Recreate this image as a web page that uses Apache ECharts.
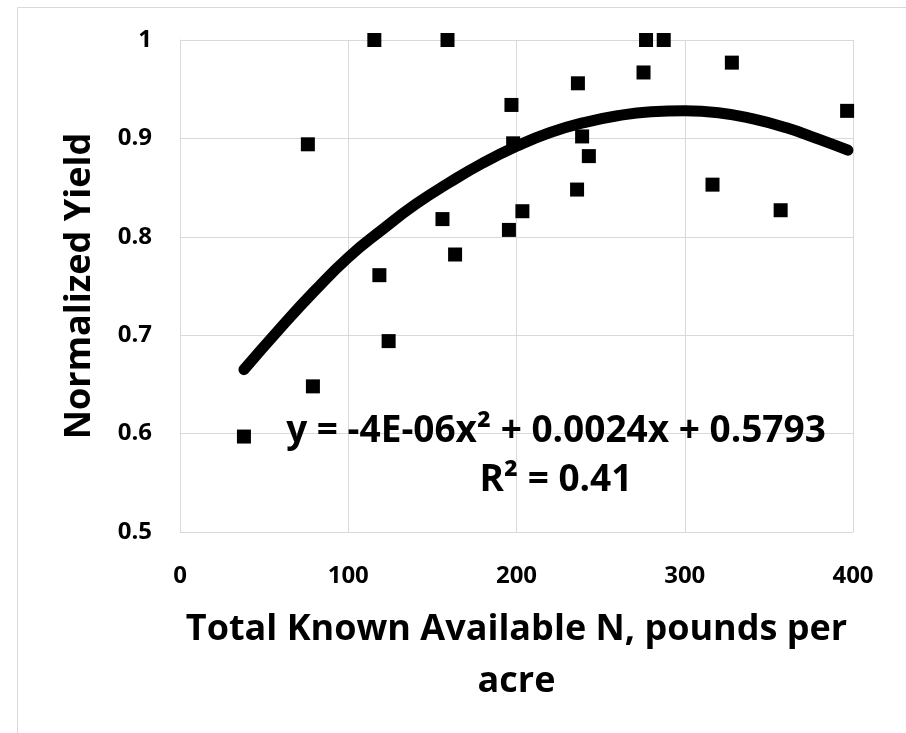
<!DOCTYPE html>
<html>
<head>
<meta charset="utf-8">
<script src="https://cdn.jsdelivr.net/npm/echarts@6/dist/echarts.min.js"></script>
<style>
html,body{margin:0;padding:0;background:#fff;}
#chart{width:906px;height:733px;}
</style>
</head>
<body>
<div id="chart"></div>
<script>
// Observed data points (Total Known Available N, Normalized Yield)
var nValues = [38, 76, 79, 115.5, 118.5, 124, 156, 159, 163.5, 195.5, 197, 198, 203.5, 236, 236.5, 239, 243, 275.5, 277, 287.5, 316.5, 328, 357, 396.5];
var yieldValues = [0.597, 0.894, 0.648, 1.0, 0.761, 0.694, 0.818, 1.0, 0.782, 0.807, 0.934, 0.895, 0.826, 0.848, 0.956, 0.902, 0.882, 0.967, 1.0, 1.0, 0.853, 0.977, 0.827, 0.928];

// Trendline points
var trendX = [38, 60, 80, 100, 120, 140, 160, 180, 200, 220, 240, 260, 280, 300, 320, 340, 360, 380, 397];
var trendY = [0.665, 0.708, 0.745, 0.779, 0.807, 0.833, 0.855, 0.875, 0.892, 0.906, 0.916, 0.923, 0.927, 0.928, 0.926, 0.920, 0.911, 0.899, 0.888];

var xTicks = [0, 100, 200, 300, 400];
var yTicks = [0.5, 0.6, 0.7, 0.8, 0.9, 1];

var xTitle = 'Total Known Available N, pounds per\nacre';
var yTitle = 'Normalized Yield';
var equationText = 'y = -4E-06x\u00B2 + 0.0024x + 0.5793';
var r2Text = 'R\u00B2 = 0.41';

var FONT = '"Open Sans", "DejaVu Sans", sans-serif';

var chart = echarts.init(document.getElementById('chart'), null, {renderer: 'canvas'});

var scatterData = nValues.map(function (v, i) { return [v, yieldValues[i]]; });
var trendData = trendX.map(function (v, i) { return [v, trendY[i]]; });

var option = {
  backgroundColor: '#ffffff',
  animation: false,
  grid: { left: 180, top: 40, right: 53, bottom: 201, containLabel: false },
  xAxis: {
    type: 'value',
    min: xTicks[0], max: xTicks[xTicks.length - 1], interval: 100,
    name: xTitle,
    nameLocation: 'middle',
    nameGap: 72,
    nameTextStyle: { fontFamily: FONT, fontWeight: 'bold', fontSize: 36, color: '#000', lineHeight: 52 },
    axisLine: { show: true, lineStyle: { color: '#d9d9d9', width: 1 } },
    axisTick: { show: false },
    axisLabel: { fontFamily: FONT, fontWeight: 'bold', fontSize: 24, color: '#000', margin: 32 },
    splitLine: { show: true, lineStyle: { color: '#d9d9d9', width: 1 } }
  },
  yAxis: {
    type: 'value',
    min: yTicks[0], max: yTicks[yTicks.length - 1], interval: 0.1,
    name: yTitle,
    nameLocation: 'middle',
    nameGap: 82,
    nameTextStyle: { fontFamily: FONT, fontWeight: 'bold', fontSize: 36, color: '#000' },
    axisLine: { show: true, lineStyle: { color: '#d9d9d9', width: 1 } },
    axisTick: { show: false },
    axisLabel: { fontFamily: FONT, fontWeight: 'bold', fontSize: 24, color: '#000', margin: 28 },
    splitLine: { show: true, lineStyle: { color: '#d9d9d9', width: 1 } }
  },
  graphic: [
    { type: 'rect', left: 15, top: 5, silent: true, z: -10,
      shape: { width: 1000, height: 1000 },
      style: { fill: 'none', stroke: '#d9d9d9', lineWidth: 1 } },
    { type: 'text', x: 556, y: 431, z: 100,
      style: { text: equationText, font: 'bold 37px ' + FONT, fill: '#000', textAlign: 'center', textVerticalAlign: 'middle' } },
    { type: 'text', x: 556, y: 480, z: 100,
      style: { text: r2Text, font: 'bold 37px ' + FONT, fill: '#000', textAlign: 'center', textVerticalAlign: 'middle' } }
  ],
  series: [
    {
      type: 'line',
      data: trendData,
      smooth: true,
      showSymbol: false,
      symbol: 'none',
      lineStyle: { color: '#000', width: 11, cap: 'round', join: 'round', opacity: 1 },
      z: 3
    },
    {
      type: 'scatter',
      data: scatterData,
      symbol: 'rect',
      symbolSize: 14,
      itemStyle: { color: '#000', opacity: 1 },
      z: 4
    }
  ]
};
chart.setOption(option);
</script>
</body>
</html>
